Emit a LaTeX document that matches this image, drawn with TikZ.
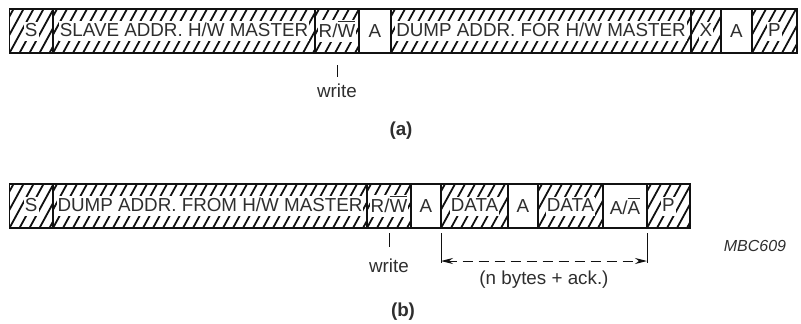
\documentclass[tikz,border=0pt]{standalone}
\usepackage{fontspec}
\setmainfont{Liberation Sans}
\usetikzlibrary{arrows.meta}
\definecolor{ink}{HTML}{111111}
\definecolor{txt}{HTML}{2E2E2E}
% white backing behind a label in a hatched field
\newcommand\wbox[1]{{\setlength\fboxsep{1pt}\colorbox{white}{\rule[-3.5pt]{0pt}{17pt}#1}}}
% bar over a letter (inverted signal)
\newcommand\barover[1]{\setbox0\hbox{#1}\rlap{\raisebox{\dimexpr\ht0+2.5pt\relax}{\rule{\wd0}{1pt}}}\box0}
\begin{document}
\begin{tikzpicture}[x=1pt,y=-1pt,
  font=\fontsize{18.8}{20}\selectfont, text=txt,
  field/.style={draw=ink, line width=1.2pt, minimum height=44pt, anchor=west,
    inner sep=0pt, outer sep=0pt},
  hatched/.style={path picture={
    \foreach \k in {-4,...,33}{
      \draw[ink,line width=1.8pt] ([xshift=\k*10pt]path picture bounding box.south west) -- ++(24pt,44pt);}}},
  tick/.style={draw=ink, line width=1pt},
  dim/.style={draw=ink, line width=1pt},
  tag/.style={font=\fontsize{18.8}{20}\selectfont\bfseries}]
\useasboundingbox (0,0) rectangle (801,324);

% ---- (a) write to slave
\node[field,hatched,minimum width=43.5pt] (aS) at (9.5,31) {\wbox{S}};
\node[field,hatched,minimum width=262pt] (aSlave) at (aS.east) {\wbox{SLAVE ADDR. H/W MASTER}};
\node[field,hatched,minimum width=44pt] (aRW) at (aSlave.east) {\wbox{R/\barover{W}}};
\node[field,minimum width=32pt] (aA1) at (aRW.east) {A};
\node[field,hatched,minimum width=300pt] (aDump) at (aA1.east) {\wbox{DUMP ADDR. FOR H/W MASTER}};
\node[field,hatched,minimum width=30pt] (aX) at (aDump.east) {\wbox{X}};
\node[field,minimum width=31pt] (aA2) at (aX.east) {A};
\node[field,hatched,minimum width=45pt] (aP) at (aA2.east) {\wbox{P}};

\coordinate (aT1) at ([yshift=-12pt]aRW.south);
\coordinate (aT2) at ([yshift=-24pt]aRW.south);
\draw[tick] (aT1) -- (aT2);
\node[anchor=base] (aWrite) at (337,97) {write};
\node[tag] (aTag) at (401,131) {(a)};

% ---- (b) data from dump address
\node[field,hatched,minimum width=43.5pt] (bS) at (9.5,206) {\wbox{S}};
\node[field,hatched,minimum width=314pt] (bDump) at (bS.east) {\wbox{DUMP ADDR. FROM H/W MASTER}};
\node[field,hatched,minimum width=44pt] (bRW) at (bDump.east) {\wbox{R/\barover{W}}};
\node[field,minimum width=30pt] (bA1) at (bRW.east) {A};
\node[field,hatched,minimum width=67pt] (bD1) at (bA1.east) {\wbox{DATA}};
\node[field,minimum width=30pt] (bA2) at (bD1.east) {A};
\node[field,hatched,minimum width=65pt] (bD2) at (bA2.east) {\wbox{DATA}};
\node[field,minimum width=44pt] (bAA) at (bD2.east) {A/\barover{A}};
\node[field,hatched,minimum width=43pt] (bP) at (bAA.east) {\wbox{P}};

\coordinate (bT1) at ([yshift=-5pt]bRW.south);
\coordinate (bT2) at ([yshift=-19pt]bRW.south);
\draw[tick] (bT1) -- (bT2);
\node[anchor=base] (bWrite) at (389,272) {write};

% span of the repeated data bytes
\coordinate (dL1) at ([yshift=-5pt]bD1.south west);
\coordinate (dL2) at ([yshift=-35pt]bD1.south west);
\coordinate (dR1) at ([yshift=-5pt]bAA.south east);
\coordinate (dR2) at ([yshift=-35pt]bAA.south east);
\coordinate (dLm) at ([yshift=-33pt]bD1.south west);
\coordinate (dRm) at ([yshift=-33pt]bAA.south east);
\draw[dim] (dL1) -- (dL2);
\draw[dim] (dR1) -- (dR2);
\draw[dim, dash pattern=on 10pt off 6pt, dash phase=-14pt,
  arrows={Stealth[length=12pt,width=6pt]-Stealth[length=12pt,width=6pt]}] (dLm) -- (dRm);
\node (bSpan) at (544,280) {(n bytes + ack.)};
\node[tag] (bTag) at (403,312) {(b)};

\node[font=\fontsize{16}{18}\selectfont\itshape] (code) at (755,246) {MBC609};
\end{tikzpicture}
\end{document}
